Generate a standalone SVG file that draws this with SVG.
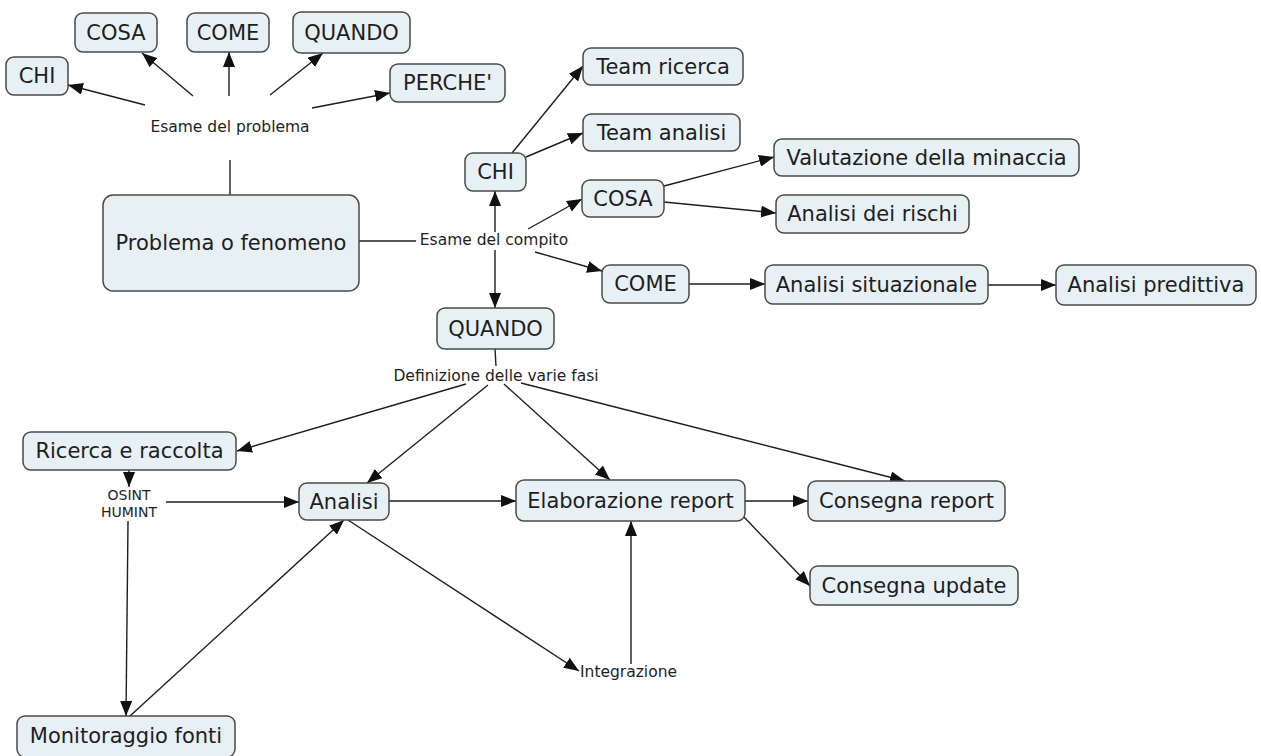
<svg xmlns="http://www.w3.org/2000/svg" width="1261" height="756" viewBox="0 0 1261 756">
<defs>
<style>
.node rect{fill:#e7f0f4;stroke:#4a4a4a;stroke-width:1.5}
.node text{font-family:"DejaVu Sans",Verdana,sans-serif;font-size:21px;fill:#1e1e1e;text-anchor:middle;dominant-baseline:central}
.lbl{font-family:"DejaVu Sans",Verdana,sans-serif;font-size:15.5px;fill:#1e1e1e;text-anchor:middle;dominant-baseline:central}
.sm{font-size:14px}
.c line{stroke:#1e1e1e;stroke-width:1.4;fill:none}
.c line.a{marker-end:url(#ah)}
</style>
<marker id="ah" viewBox="0 0 15 12" refX="15" refY="6" markerWidth="15" markerHeight="12" markerUnits="userSpaceOnUse" orient="auto">
<path d="M0,0 L15,6 L0,12 z" fill="#111"/>
</marker>
</defs>
<rect width="1261" height="756" fill="#ffffff"/>
<g id="connectors" class="c">
<line class="a" x1="145" y1="105" x2="68" y2="85"/>
<line class="a" x1="193" y1="96" x2="142" y2="53"/>
<line class="a" x1="229" y1="96" x2="229" y2="52"/>
<line class="a" x1="270" y1="95" x2="323" y2="53"/>
<line class="a" x1="312" y1="108" x2="390" y2="93"/>
<line x1="230" y1="160" x2="230" y2="195"/>
<line x1="359" y1="241" x2="416" y2="241"/>
<line class="a" x1="495" y1="232" x2="495" y2="191"/>
<line class="a" x1="495" y1="250" x2="495" y2="308"/>
<line class="a" x1="528" y1="229" x2="582" y2="199"/>
<line class="a" x1="535" y1="252" x2="602" y2="271"/>
<line class="a" x1="512" y1="153" x2="583" y2="66"/>
<line class="a" x1="526" y1="157" x2="583" y2="133"/>
<line class="a" x1="664" y1="186" x2="774" y2="157"/>
<line class="a" x1="664" y1="202" x2="776" y2="213"/>
<line class="a" x1="689" y1="284" x2="765" y2="284"/>
<line class="a" x1="988" y1="285" x2="1056" y2="285"/>
<line x1="495" y1="349" x2="496" y2="366"/>
<line class="a" x1="466" y1="384" x2="237" y2="451"/>
<line class="a" x1="488" y1="385" x2="367" y2="483"/>
<line class="a" x1="504" y1="384" x2="610" y2="480"/>
<line class="a" x1="521" y1="383" x2="905" y2="481"/>
<line class="a" x1="129" y1="470" x2="129" y2="487"/>
<line class="a" x1="166" y1="502" x2="299" y2="502"/>
<line class="a" x1="128" y1="521" x2="126" y2="716"/>
<line class="a" x1="130" y1="716" x2="344" y2="520"/>
<line class="a" x1="389" y1="501" x2="516" y2="501"/>
<line class="a" x1="348" y1="520" x2="579" y2="671"/>
<line class="a" x1="631" y1="664" x2="631" y2="521"/>
<line class="a" x1="745" y1="501" x2="808" y2="501"/>
<line class="a" x1="744" y1="517" x2="810" y2="586"/>
</g>
<g id="labels">
<text class="lbl" x="230" y="127">Esame del problema</text>
<text class="lbl" x="494" y="240">Esame del compito</text>
<text class="lbl" x="496" y="376">Definizione delle varie fasi</text>
<text class="lbl sm" x="129" y="495">OSINT</text>
<text class="lbl sm" x="129" y="512">HUMINT</text>
<text class="lbl" x="580" y="672" style="text-anchor:start">Integrazione</text>
</g>
<g id="n-chi1" class="node"><rect x="6" y="57" width="62" height="38" rx="8"/><text x="37" y="76">CHI</text></g>
<g id="n-cosa1" class="node"><rect x="75" y="13" width="82" height="39" rx="8"/><text x="116" y="32.5">COSA</text></g>
<g id="n-come1" class="node"><rect x="187" y="13" width="82" height="39" rx="8"/><text x="228" y="32.5">COME</text></g>
<g id="n-quando1" class="node"><rect x="293" y="12" width="117" height="41" rx="8"/><text x="351.5" y="32.5">QUANDO</text></g>
<g id="n-perche1" class="node"><rect x="390" y="64" width="115" height="38" rx="8"/><text x="447.5" y="83">PERCHE'</text></g>
<g id="n-problema" class="node"><rect x="103" y="195" width="256" height="96" rx="10"/><text x="231" y="243">Problema o fenomeno</text></g>
<g id="n-team-ricerca" class="node"><rect x="583" y="48" width="160" height="37" rx="8"/><text x="663" y="66.5">Team ricerca</text></g>
<g id="n-team-analisi" class="node"><rect x="583" y="114" width="157" height="37" rx="8"/><text x="661.5" y="132.5">Team analisi</text></g>
<g id="n-chi2" class="node"><rect x="465" y="153" width="61" height="38" rx="8"/><text x="495.5" y="172">CHI</text></g>
<g id="n-valutazione" class="node"><rect x="774" y="139" width="305" height="37" rx="8"/><text x="926.5" y="157.5">Valutazione della minaccia</text></g>
<g id="n-cosa2" class="node"><rect x="582" y="180" width="82" height="37" rx="8"/><text x="623" y="198.5">COSA</text></g>
<g id="n-rischi" class="node"><rect x="776" y="195" width="193" height="38" rx="8"/><text x="872.5" y="214">Analisi dei rischi</text></g>
<g id="n-come2" class="node"><rect x="602" y="265" width="87" height="38" rx="8"/><text x="645.5" y="284">COME</text></g>
<g id="n-situazionale" class="node"><rect x="765" y="265" width="223" height="39" rx="8"/><text x="876.5" y="284.5">Analisi situazionale</text></g>
<g id="n-predittiva" class="node"><rect x="1056" y="265" width="200" height="40" rx="8"/><text x="1156" y="285">Analisi predittiva</text></g>
<g id="n-quando2" class="node"><rect x="437" y="308" width="117" height="41" rx="8"/><text x="495.5" y="328.5">QUANDO</text></g>
<g id="n-ricerca" class="node"><rect x="23" y="432" width="213" height="38" rx="8"/><text x="129.5" y="451">Ricerca e raccolta</text></g>
<g id="n-analisi" class="node"><rect x="299" y="483" width="90" height="37" rx="8"/><text x="344" y="501.5">Analisi</text></g>
<g id="n-elaborazione" class="node"><rect x="516" y="480" width="229" height="41" rx="8"/><text x="630.5" y="500.5">Elaborazione report</text></g>
<g id="n-consegna-report" class="node"><rect x="808" y="481" width="197" height="40" rx="8"/><text x="906.5" y="501">Consegna report</text></g>
<g id="n-consegna-update" class="node"><rect x="810" y="566" width="208" height="39" rx="8"/><text x="914" y="585.5">Consegna update</text></g>
<g id="n-monitoraggio" class="node"><rect x="17" y="716" width="218" height="41" rx="8"/><text x="126" y="736">Monitoraggio fonti</text></g>
</svg>
